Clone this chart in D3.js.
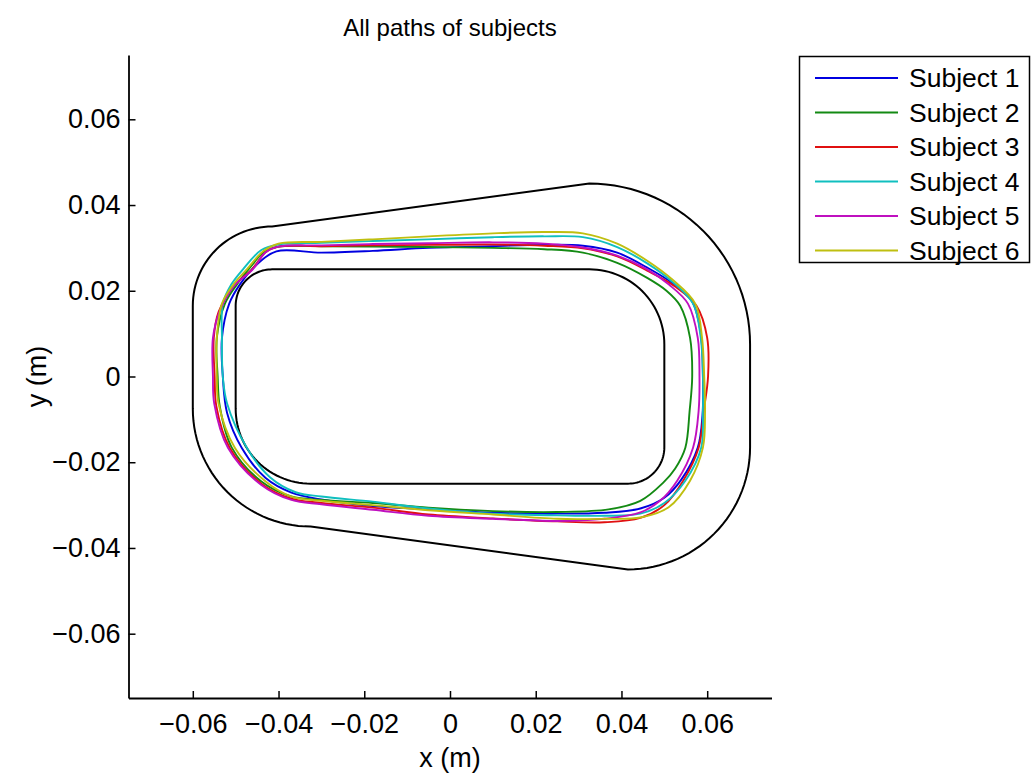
<!DOCTYPE html>
<html>
<head>
<meta charset="utf-8">
<script src="https://cdn.jsdelivr.net/npm/d3@7"></script>
<style>
  html, body { margin: 0; padding: 0; background: #fff; }
  svg { display: block; }
  text { font-family: "Liberation Sans", Arial, Helvetica, sans-serif; fill: #000; }
</style>
</head>
<body>
<svg id="chart" width="1031" height="773"></svg>
<script>
// ---- Track geometry (metres) ----
// Corner arc centres shared by the inner and outer walls: TL, TR, BR, BL
const cornerCentres = [[-0.0415, 0.0165], [0.0325, 0.0075], [0.0415, -0.0165], [-0.0325, -0.0075]];
const innerRadii = [0.0085, 0.0175, 0.0085, 0.0175];
const outerRadii = [0.0185, 0.0375, 0.0285, 0.0275];
// Start angle of each corner arc (degrees); each arc sweeps 90 degrees clockwise
const cornerStartAngles = [180, 90, 0, -90];

// ---- Recorded paths of the subjects (x, y in metres), clockwise from the top-left ----
const subjectNames = ["Subject 1", "Subject 2", "Subject 3", "Subject 4", "Subject 5", "Subject 6"];
const subjectColours = ["#0000e0", "#138a13", "#e01010", "#10bfbf", "#bf10bf", "#bfbf10"];

const subject1 = [[-0.0405, 0.0292], [-0.030, 0.0289], [-0.018, 0.0293], [-0.005, 0.0300], [0.010, 0.0304], [0.022, 0.0307], [0.031, 0.0305], [0.039, 0.0289], [0.046, 0.0254], [0.052, 0.0217], [0.0565, 0.0175], [0.0585, 0.0100], [0.0590, 0.000], [0.0589, -0.0090], [0.0578, -0.0166], [0.0540, -0.0240], [0.0500, -0.0283], [0.0444, -0.0308], [0.036, -0.0318], [0.025, -0.0320], [0.010, -0.0318], [-0.005, -0.0310], [-0.018, -0.0302], [-0.030, -0.0287], [-0.037, -0.0271], [-0.043, -0.0237], [-0.0486, -0.0166], [-0.0520, -0.0085], [-0.0530, 0.000], [-0.0532, 0.009], [-0.0515, 0.017], [-0.0490, 0.0215], [-0.0450, 0.0262]];
const subject2 = [[-0.040, 0.0303], [-0.030, 0.0304], [-0.018, 0.0303], [-0.005, 0.0302], [0.010, 0.0300], [0.022, 0.0297], [0.031, 0.0289], [0.039, 0.0265], [0.046, 0.0230], [0.0505, 0.0200], [0.0537, 0.0165], [0.0560, 0.0090], [0.0565, 0.000], [0.0559, -0.0080], [0.0549, -0.0166], [0.0525, -0.0215], [0.0497, -0.0248], [0.0444, -0.0290], [0.037, -0.0310], [0.025, -0.0316], [0.010, -0.0314], [-0.005, -0.0306], [-0.018, -0.0295], [-0.030, -0.0288], [-0.037, -0.0280], [-0.044, -0.0245], [-0.0509, -0.0166], [-0.0537, -0.0070], [-0.0542, 0.000], [-0.0544, 0.009], [-0.0525, 0.017], [-0.0497, 0.0215], [-0.0460, 0.0262], [-0.0435, 0.0290]];
const subject3 = [[-0.040, 0.0303], [-0.030, 0.0304], [-0.018, 0.0306], [-0.005, 0.0307], [0.010, 0.0308], [0.022, 0.0305], [0.031, 0.0299], [0.039, 0.0280], [0.046, 0.0247], [0.0525, 0.0210], [0.0575, 0.0165], [0.0600, 0.0090], [0.0602, 0.000], [0.0592, -0.0080], [0.0580, -0.0166], [0.0544, -0.0243], [0.050, -0.0300], [0.0444, -0.0330], [0.036, -0.0340], [0.025, -0.0338], [0.010, -0.0331], [-0.005, -0.0322], [-0.018, -0.0306], [-0.030, -0.0295], [-0.037, -0.0285], [-0.044, -0.0250], [-0.0514, -0.0166], [-0.0545, -0.0070], [-0.0549, 0.000], [-0.0551, 0.009], [-0.0540, 0.015], [-0.0505, 0.021], [-0.0462, 0.0250], [-0.0430, 0.0290]];
const subject4 = [[-0.040, 0.0308], [-0.030, 0.0312], [-0.018, 0.0316], [-0.005, 0.0320], [0.010, 0.0325], [0.022, 0.0327], [0.031, 0.0325], [0.039, 0.0302], [0.046, 0.0264], [0.052, 0.0220], [0.0567, 0.0170], [0.0585, 0.0090], [0.0590, 0.000], [0.0590, -0.0080], [0.0586, -0.0166], [0.0549, -0.0243], [0.050, -0.0295], [0.0444, -0.0320], [0.036, -0.0325], [0.025, -0.0324], [0.010, -0.0320], [-0.005, -0.0308], [-0.018, -0.0292], [-0.030, -0.0280], [-0.036, -0.0270], [-0.042, -0.0235], [-0.0474, -0.0166], [-0.0520, -0.0063], [-0.0530, 0.000], [-0.0532, 0.009], [-0.0530, 0.017], [-0.0510, 0.0215], [-0.0483, 0.0250], [-0.0440, 0.0295]];
const subject5 = [[-0.040, 0.0303], [-0.030, 0.0306], [-0.018, 0.0309], [-0.005, 0.0311], [0.010, 0.0313], [0.022, 0.0310], [0.031, 0.0301], [0.039, 0.0282], [0.046, 0.0250], [0.051, 0.0215], [0.0555, 0.0170], [0.0578, 0.0090], [0.0582, 0.000], [0.0580, -0.0080], [0.0567, -0.0166], [0.0530, -0.0243], [0.0490, -0.0290], [0.0444, -0.0317], [0.036, -0.0332], [0.025, -0.0337], [0.010, -0.0332], [-0.005, -0.0325], [-0.018, -0.0311], [-0.030, -0.0298], [-0.037, -0.0288], [-0.044, -0.0253], [-0.0518, -0.0166], [-0.0550, -0.0063], [-0.0553, 0.000], [-0.0553, 0.009], [-0.0538, 0.015], [-0.0505, 0.0210], [-0.0460, 0.0250], [-0.0430, 0.0290]];
const subject6 = [[-0.040, 0.0310], [-0.030, 0.0314], [-0.018, 0.0320], [-0.005, 0.0327], [0.010, 0.0334], [0.022, 0.0337], [0.031, 0.0334], [0.039, 0.0310], [0.046, 0.0270], [0.052, 0.0225], [0.0572, 0.0170], [0.0588, 0.0090], [0.0593, 0.000], [0.0595, -0.0080], [0.0590, -0.0166], [0.0560, -0.0243], [0.0510, -0.0305], [0.0444, -0.0329], [0.036, -0.0332], [0.025, -0.0332], [0.010, -0.0322], [-0.005, -0.0312], [-0.018, -0.0300], [-0.030, -0.0290], [-0.037, -0.0280], [-0.043, -0.0245], [-0.0502, -0.0166], [-0.0540, -0.0063], [-0.0544, 0.000], [-0.0544, 0.009], [-0.0532, 0.017], [-0.0505, 0.0215], [-0.0474, 0.0250], [-0.0435, 0.0293]];
const subjectPaths = [subject1, subject2, subject3, subject4, subject5, subject6];

// ---- Axes ----
const axisLimits = [-0.075, 0.075];
const tickValues = [-0.06, -0.04, -0.02, 0, 0.02, 0.04, 0.06];
const tickLabels = ["\u22120.06", "\u22120.04", "\u22120.02", "0", "0.02", "0.04", "0.06"];

const svg = d3.select("#chart");
const plot = { left: 128.5, right: 771.5, top: 55, bottom: 698 };

const x = d3.scaleLinear().domain(axisLimits).range([plot.left, plot.right]);
const y = d3.scaleLinear().domain(axisLimits).range([plot.bottom, plot.top]);

const line = d3.line().x(d => x(d[0])).y(d => y(d[1]));

// Build a closed wall outline from its four corner arcs joined by straight segments
function wallOutline(radii) {
  const pts = [];
  cornerCentres.forEach((c, i) => {
    const a0 = cornerStartAngles[i];
    for (let k = 0; k <= 30; k++) {
      const a = (a0 - 90 * k / 30) * Math.PI / 180;
      pts.push([c[0] + radii[i] * Math.cos(a), c[1] + radii[i] * Math.sin(a)]);
    }
  });
  return pts;
}

// Track walls
[innerRadii, outerRadii].forEach(radii => {
  svg.append("path")
    .attr("d", line(wallOutline(radii)) + "Z")
    .attr("fill", "none")
    .attr("stroke", "#000")
    .attr("stroke-width", 2);
});

// Subject paths
const pathLine = d3.line().x(d => x(d[0])).y(d => y(d[1])).curve(d3.curveCatmullRomClosed.alpha(0.5));
subjectPaths.forEach((pts, i) => {
  svg.append("path")
    .attr("d", pathLine(pts))
    .attr("fill", "none")
    .attr("stroke", subjectColours[i])
    .attr("stroke-width", 1.9)
    .attr("stroke-linejoin", "round");
});

const fontSize = 27;

// X axis (ticks pointing inwards)
const xAxis = d3.axisBottom(x).tickValues(tickValues).tickSizeInner(-7).tickSizeOuter(0)
  .tickPadding(16).tickFormat((d, i) => tickLabels[i]);
const gx = svg.append("g").attr("transform", `translate(0,${plot.bottom})`).call(xAxis);
gx.select(".domain").attr("stroke-width", 1.8);
gx.selectAll(".tick line").attr("stroke-width", 1.5);
gx.selectAll(".tick text").attr("font-size", fontSize).attr("font-family", "Liberation Sans, Arial, sans-serif");

// Y axis
const yAxis = d3.axisLeft(y).tickValues(tickValues).tickSizeInner(-7).tickSizeOuter(0)
  .tickPadding(8).tickFormat((d, i) => tickLabels[i]);
const gy = svg.append("g").attr("transform", `translate(${plot.left},0)`).call(yAxis);
gy.select(".domain").attr("stroke-width", 1.8);
gy.selectAll(".tick line").attr("stroke-width", 1.5);
gy.selectAll(".tick text").attr("font-size", fontSize).attr("font-family", "Liberation Sans, Arial, sans-serif");

// Axis labels and title
svg.append("text")
  .attr("x", x(0)).attr("y", 767)
  .attr("text-anchor", "middle").attr("font-size", fontSize)
  .text("x (m)");
svg.append("text")
  .attr("transform", `translate(46,${y(0)}) rotate(-90)`)
  .attr("text-anchor", "middle").attr("font-size", fontSize)
  .text("y (m)");
svg.append("text")
  .attr("x", x(0)).attr("y", 36)
  .attr("text-anchor", "middle").attr("font-size", 24)
  .text("All paths of subjects");

// Legend
const legend = svg.append("g");
legend.append("rect")
  .attr("x", 799.5).attr("y", 56.5).attr("width", 230).attr("height", 206)
  .attr("fill", "#fff").attr("stroke", "#000").attr("stroke-width", 1.5);
subjectNames.forEach((name, i) => {
  const ly = 78 + i * 34.5;
  legend.append("line")
    .attr("x1", 815).attr("x2", 898).attr("y1", ly).attr("y2", ly)
    .attr("stroke", subjectColours[i]).attr("stroke-width", 1.9);
  legend.append("text")
    .attr("x", 909).attr("y", ly).attr("dy", "0.35em")
    .attr("font-size", 26.5)
    .text(name);
});
</script>
</body>
</html>
